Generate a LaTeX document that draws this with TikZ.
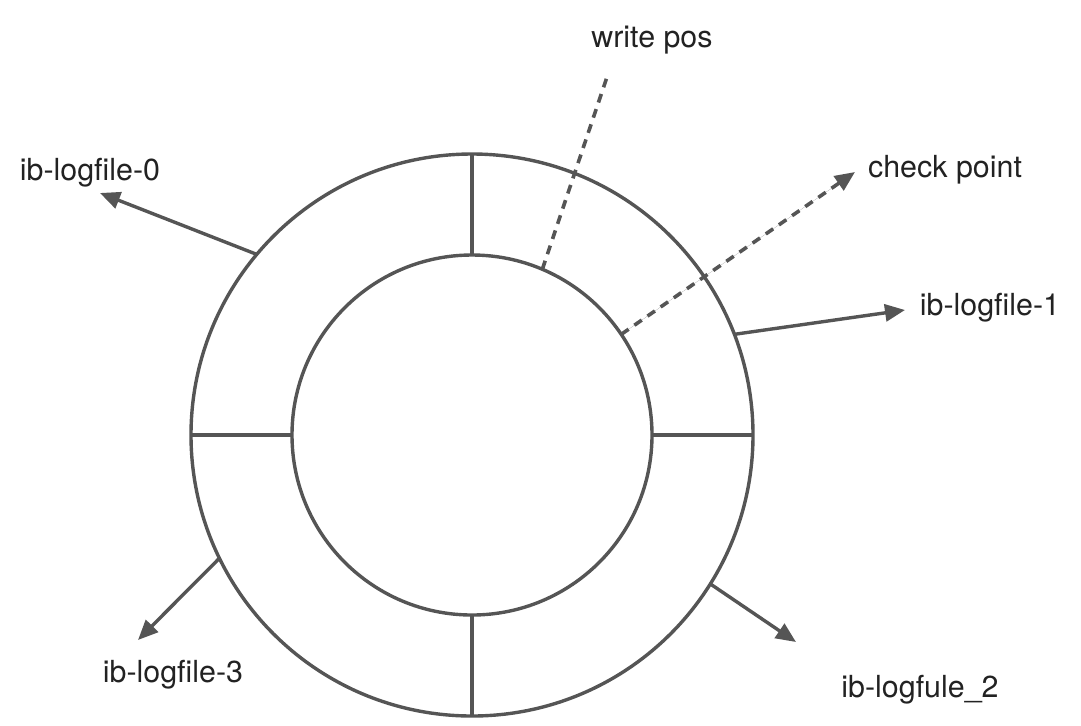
\documentclass[tikz,border=0pt]{standalone}
\usepackage{fontspec}
\setmainfont{TeX Gyre Heros}
\usetikzlibrary{arrows.meta}
\definecolor{linegray}{HTML}{555555}
\definecolor{textgray}{HTML}{222222}
\tikzset{
  ring/.style={circle, draw=linegray, line width=1.7pt, inner sep=0pt, outer sep=0pt},
  divider/.style={draw=linegray, line width=1.7pt},
  pointer/.style={draw=linegray, line width=1.7pt, -{Triangle[length=10pt,width=8.5pt]}, fill=linegray},
  dashpointer/.style={draw=linegray, line width=1.8pt, dash pattern=on 4.5pt off 3.5pt},
  label/.style={text=textgray, font=\fontsize{15.2}{18}\selectfont, inner sep=0pt}
}
\begin{document}
\begin{tikzpicture}[x=0.5pt,y=-0.5pt]
\useasboundingbox (0,0) rectangle (1081,725);
\node[ring, minimum size=281pt] (outer) at (472,435) {};
\node[ring, minimum size=180pt] (inner) at (472,435) {};
% dividers
\draw[divider] (outer.north) -- (inner.north);
\draw[divider] (outer.south) -- (inner.south);
\draw[divider] (outer.west) -- (inner.west);
\draw[divider] (outer.east) -- (inner.east);
% labels
\node[label] (l0) at (90,173) {ib-logfile-0};
\node[label] (wp) at (652,40) {write pos};
\node[label] (cp) at (945,170) {check point};
\node[label] (l1) at (990,308) {ib-logfile-1};
\node[label] (l3) at (173,675) {ib-logfile-3};
\node[label] (l2) at (920,690) {ib-logfule\_2};
% arrow tips
\coordinate (t0) at (100,193);
\coordinate (twp) at (607,77);
\coordinate (tcp) at (855,172);
\coordinate (t1) at (905,310);
\coordinate (t3) at (138,640);
\coordinate (t2) at (796,642);
% connectors
\draw[pointer] (outer.140.5) -- (t0);
\draw[pointer] (outer.21.7) -- (t1);
\draw[pointer] (outer.206.8) -- (t3);
\draw[pointer] (outer.-32.5) -- (t2);
\draw[dashpointer] (inner.67.9) -- (twp);
\draw[dashpointer, -{Triangle[length=10pt,width=8.5pt]}, fill=linegray] (inner.34.3) -- (tcp);
\end{tikzpicture}
\end{document}
